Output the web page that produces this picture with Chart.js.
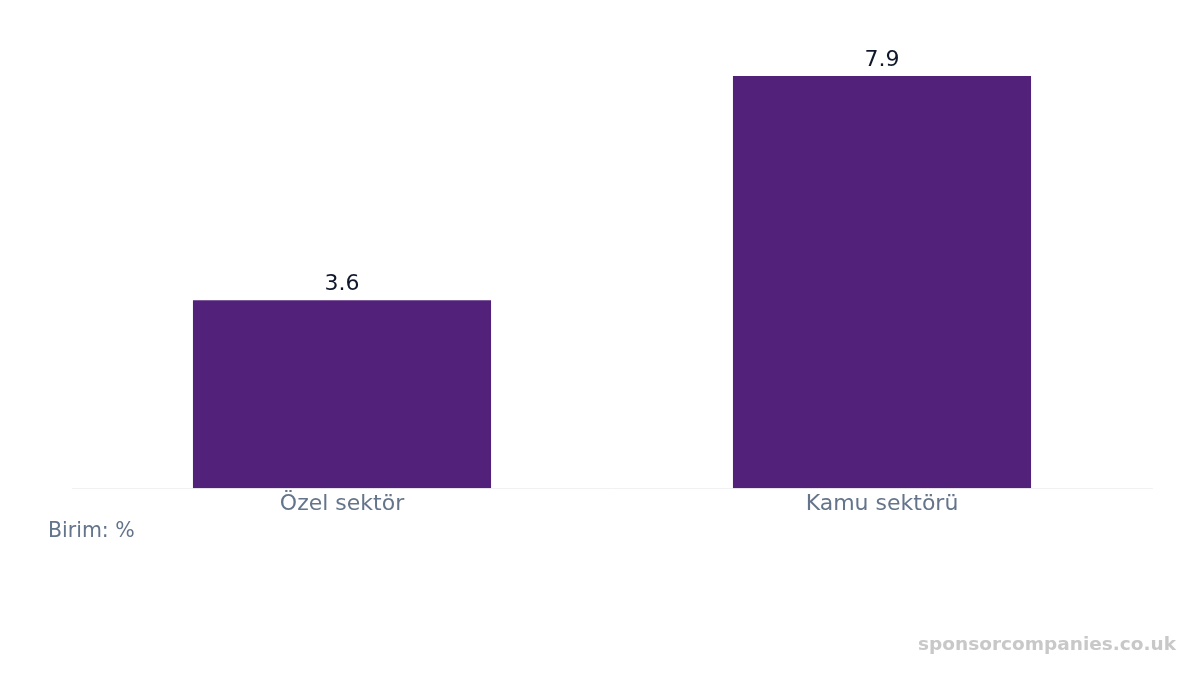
<!DOCTYPE html>
<html>
<head>
<meta charset="utf-8">
<script src="https://cdn.jsdelivr.net/npm/chart.js@4"></script>
<style>
  html, body { margin: 0; padding: 0; background: #fff; }
  #wrap { position: relative; width: 1200px; height: 675px; font-family: "DejaVu Sans", sans-serif; }
  #chart { position: absolute; left: 0; top: 0; }
  #unit { position: absolute; left: 48px; top: 518px; font-size: 20.5px; color: #64748b; }
  #mark { position: absolute; right: 24px; top: 633px; font-size: 18.5px; font-weight: bold; color: #c8c8c8; }
</style>
</head>
<body>
<div id="wrap">
  <canvas id="chart" width="1200" height="675"></canvas>
  <div id="unit">Birim: %</div>
  <div id="mark">sponsorcompanies.co.uk</div>
</div>
<script>
var categories = ["Özel sektör", "Kamu sektörü"];
var values = [3.6, 7.9];

// draws the value above each bar
var valueLabels = {
    id: 'valueLabels',
    afterDatasetsDraw: function (chart) {
        var ctx = chart.ctx;
        var meta = chart.getDatasetMeta(0);
        ctx.save();
        ctx.font = '22px "DejaVu Sans"';
        ctx.fillStyle = '#0f172a';
        ctx.textAlign = 'center';
        ctx.textBaseline = 'bottom';
        meta.data.forEach(function (bar, i) {
            ctx.fillText(values[i].toFixed(1), bar.x, bar.y - 5);
        });
        ctx.restore();
    }
};

var ctx = document.getElementById('chart').getContext('2d');
var chart = new Chart(ctx, {
    type: 'bar',
    data: {
        labels: categories,
        datasets: [{
            data: values,
            backgroundColor: '#52217a',
            borderWidth: 0,
            categoryPercentage: 1,
            barPercentage: 0.552
        }]
    },
    options: {
        responsive: false,
        animation: false,
        layout: {
            padding: { left: 72, right: 48, top: 18.5, bottom: 162.4 }
        },
        plugins: {
            legend: { display: false },
            tooltip: { enabled: false }
        },
        scales: {
            x: {
                grid: { display: false },
                border: { display: true, color: '#f1f1f1', width: 1 },
                ticks: {
                    color: '#64748b',
                    padding: -5,
                    font: { family: 'DejaVu Sans', size: 22 }
                }
            },
            y: {
                display: false,
                min: 0,
                max: 9
            }
        }
    },
    plugins: [valueLabels]
});
</script>
</body>
</html>
